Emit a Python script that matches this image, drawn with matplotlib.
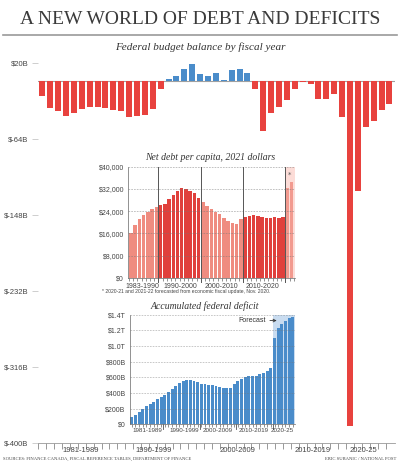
import matplotlib.pyplot as plt

W, H = 400, 475
SANS = ['Liberation Sans Narrow', 'Liberation Sans', 'DejaVu Sans']
SERIF = ['Liberation Serif', 'DejaVu Serif']

# federal budget balance, fiscal years 1981-82 .. 2025-26 ($B)
balance = [-15.7, -29.0, -32.4, -38.4, -34.6, -30.7, -28.0, -28.4, -28.9, -32.0, -32.3, -39.0,
           -38.5, -36.6, -30.0, -8.7,
           3.0, 5.8, 13.8, 19.4, 8.0, 6.6, 9.1, 1.5, 13.0, 13.8, 9.6,
           -8.5, -54.5, -35.0, -28.0, -21.0, -8.0, -0.5, -2.5, -19.0, -19.0, -14.0, -39.4,
           -381.6, -121.2, -50.7, -43.3, -32.0, -24.9]
main_ticks = [20, -64, -148, -232, -316, -400]
main_labels = ['1981-1989', '1990-1999', '2000-2009', '2010-2019', '2020-25']

# net debt per capita, 2021 dollars, 1983-84 .. 2021-22
net_debt = [16100, 18900, 21000, 22700, 23800, 24600, 25300,
            26300, 26500, 28200, 29700, 31300, 32200, 32100, 31100, 30400, 28800,
            27300, 25800, 24700, 23700, 22900, 21500, 20500, 19700, 19400, 21100,
            21900, 22200, 22600, 22300, 21900, 21600, 21600, 21700, 21600, 22000,
            32200, 34600]
debt_labels = ['1983-1990', '1990-2000', '2000-2010', '2010-2020']

# accumulated federal deficit ($B), 1981-82 .. 2025-26
accum = [95, 124, 157, 195, 230, 261, 289, 317, 346, 378, 410, 449, 488, 524, 554, 563,
         560, 554, 540, 520, 512, 505, 500, 495, 482, 467, 458, 464,
         520, 553, 585, 605, 615, 617, 622, 637, 655, 685, 718,
         1103, 1224, 1275, 1318, 1352, 1377]
accum_ticks = [0, 200, 400, 600, 800, 1000, 1200, 1400]
accum_ticklabels = ['$0', '$200B', '$400B', '$600B', '$800B', '$1.0T', '$1.2T', '$1.4T']

RED = '#e8423e'
BLUE = '#4a8cca'

fig = plt.figure(figsize=(W / 100, H / 100), dpi=100)


def px_axes(l, t, r, b):
    return fig.add_axes([l / W, 1 - b / H, (r - l) / W, (b - t) / H])


# header
fig.text(0.5, 1 - 19 / H, 'A NEW WORLD OF DEBT AND DEFICITS', ha='center', va='center',
         family=SERIF, fontsize=14, color='#3a3a3a')
fig.add_artist(plt.Line2D([3 / W, 397 / W], [1 - 34.5 / H] * 2, color='#9a9a9a', lw=1.2))
fig.text(0.5, 1 - 47 / H, 'Federal budget balance by fiscal year', ha='center', va='center',
         family=SERIF, style='italic', fontsize=8, color='#333333')

# ---- main chart ----
ax = px_axes(38, 63.4, 395, 442.7)
n = len(balance)
cols = [BLUE if v > 0 else RED for v in balance]
ax.bar(range(n), balance, width=0.76, color=cols)
ax.axhline(0, color='#a0a0a0', lw=0.8, zorder=0)
ax.set_xlim(-0.55, 44.7)
ax.set_ylim(-400, 20)
ax.set_yticks(main_ticks)
ax.set_yticklabels(['$20B' if t > 0 else f'$-{-t}B' for t in main_ticks],
                   family=SANS, fontsize=5.5, color='#444444')
ax.tick_params(axis='y', length=4, width=0.5, color='#bbbbbb', pad=3)
ax.set_xticks([k - 0.5 for k in range(n)])
ax.set_xticklabels([])
ax.tick_params(axis='x', length=4, width=0.6, color='#888888')
for s in ['top', 'right', 'left']:
    ax.spines[s].set_visible(False)
ax.spines['bottom'].set_color('#999999')
ax.spines['bottom'].set_linewidth(0.6)
for pos, lab in zip([4.9, 14.1, 24.7, 34.3, 40.7], main_labels):
    ax.text(pos, -405, lab, ha='center', va='top', family=SANS, fontsize=5.5, color='#444444')

# ---- inset 1: net debt per capita ----
ax1 = px_axes(128.3, 166.7, 295, 277.7)
m = len(net_debt)
c1 = []
for i in range(m):
    if i >= 37:
        c1.append('#f29a8f')
    elif 7 <= i < 17 or 27 <= i < 37:
        c1.append('#e0403c')
    else:
        c1.append('#ef8c80')
ax1.axvspan(36.5, 39, color='#fcdcd7', lw=0, zorder=0)
ax1.bar(range(m), net_debt, width=0.82, color=c1, zorder=2)
for yv in range(8000, 40001, 8000):
    ax1.axhline(yv, color='#777777', lw=0.4, ls=(0, (3, 2)), zorder=3, alpha=0.8)
for xv in [6.5, 16.5, 26.5, 36.5]:
    ax1.plot([xv, xv], [-1500, 40000], color='#555555', lw=0.7, zorder=4, clip_on=False)
ax1.set_xlim(-0.64, 38.8)
ax1.set_ylim(0, 40000)
ax1.set_yticks(range(0, 40001, 8000))
ax1.set_yticklabels([f'${v:,}' for v in range(0, 40001, 8000)], family=SANS, fontsize=5,
                    color='#444444')
ax1.tick_params(axis='y', length=0, pad=3)
ax1.set_xticks([k - 0.5 for k in range(m + 1)])
ax1.set_xticklabels([])
ax1.tick_params(axis='x', length=2.5, width=0.5, color='#666666')
for s in ['top', 'right']:
    ax1.spines[s].set_visible(False)
ax1.spines['left'].set_color('#666666')
ax1.spines['left'].set_linewidth(0.5)
ax1.spines['bottom'].set_color('#666666')
ax1.spines['bottom'].set_linewidth(0.5)
ax1.patch.set_alpha(0)
ax1.text(37.6, 37000, '*', ha='center', va='center', fontsize=5, color='#555555', zorder=5)
for pos, lab in zip([2.8, 11.6, 21.4, 31.2], debt_labels):
    ax1.text(pos, -1800, lab, ha='center', va='top', family=SANS, fontsize=5, color='#444444')
fig.text(210 / W, 1 - 157 / H, 'Net debt per capita, 2021 dollars', ha='center', va='center',
         family=SERIF, style='italic', fontsize=7, color='#333333')
fig.text(102 / W, 1 - 291 / H,
         '* 2020-21 and 2021-22 forecasted from economic fiscal update, Nov. 2020.',
         ha='left', va='center', family=SANS, fontsize=3.6, color='#444444')

# ---- inset 2: accumulated federal deficit ----
ax2 = px_axes(130, 314.7, 295, 424.3)
k = len(accum)
ax2.axvspan(38.5, 45, color='#c9dcf0', lw=0, zorder=0)
ax2.bar(range(k), accum, width=0.8, color=BLUE, zorder=2)
for yv in accum_ticks[1:]:
    ax2.axhline(yv, color='#777777', lw=0.4, ls=(0, (3, 2)), zorder=3, alpha=0.7)
ax2.set_xlim(-0.5, 44.6)
ax2.set_ylim(0, 1400)
ax2.set_yticks(accum_ticks)
ax2.set_yticklabels(accum_ticklabels, family=SANS, fontsize=5, color='#444444')
ax2.tick_params(axis='y', length=0, pad=3)
ax2.set_xticks([i for i in range(k)])
ax2.set_xticklabels([])
ax2.tick_params(axis='x', length=2.5, width=0.5, color='#666666')
for xv in [8.5, 18.5, 28.5, 38.5]:
    ax2.plot([xv, xv], [0, -60], color='#555555', lw=0.6, clip_on=False)
for s in ['top', 'right']:
    ax2.spines[s].set_visible(False)
ax2.spines['left'].set_color('#666666')
ax2.spines['left'].set_linewidth(0.5)
ax2.spines['bottom'].set_color('#666666')
ax2.spines['bottom'].set_linewidth(0.5)
ax2.patch.set_alpha(0)
for pos, lab in zip([4.3, 14.2, 23.4, 33.2, 41.2], main_labels):
    ax2.text(pos, -45, lab, ha='center', va='top', family=SANS, fontsize=4.5, color='#444444')
ax2.annotate('Forecast', xy=(39.6, 1325), xytext=(36.6, 1325), ha='right', va='center',
             family=SANS, fontsize=5, color='#333333',
             arrowprops=dict(arrowstyle='->', color='#333333', lw=0.6, shrinkA=1, shrinkB=0))
fig.text(205 / W, 1 - 306 / H, 'Accumulated federal deficit', ha='center', va='center',
         family=SERIF, style='italic', fontsize=7, color='#333333')

# footer
fig.text(3 / W, 1 - 459 / H, 'SOURCES: FINANCE CANADA, FISCAL REFERENCE TABLES, DEPARTMENT OF FINANCE',
         ha='left', va='center', family=SERIF, fontsize=3.3, color='#444444')
fig.text(396 / W, 1 - 459 / H, 'ERIC SUBANIC / NATIONAL POST', ha='right', va='center',
         family=SERIF, fontsize=3.3, color='#444444')

fig.savefig('out.png', dpi=100)
